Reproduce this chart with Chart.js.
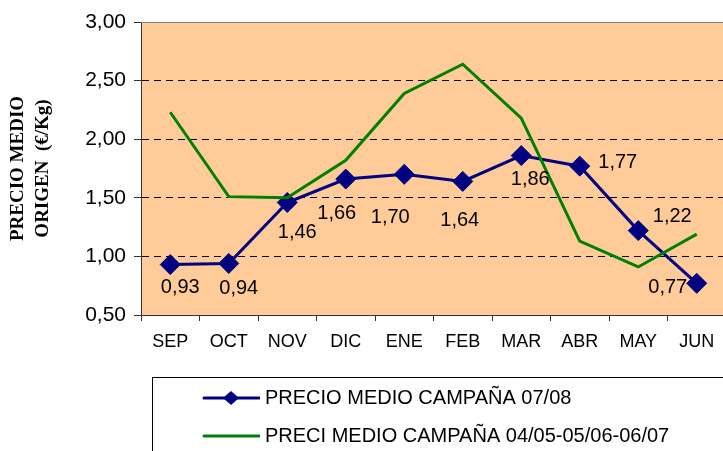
<!DOCTYPE html>
<html>
<head>
<meta charset="utf-8">
<script src="https://cdn.jsdelivr.net/npm/chart.js@4/dist/chart.umd.min.js"></script>
<style>
  html, body { margin: 0; padding: 0; background: #ffffff; overflow: hidden; }
  #wrap { width: 723px; height: 451px; overflow: hidden; position: relative; }
  canvas { display: block; }
</style>
</head>
<body>
<div id="wrap"><canvas id="c" width="740" height="456"></canvas></div>
<script>
// ---- data ----
const categories = ['SEP', 'OCT', 'NOV', 'DIC', 'ENE', 'FEB', 'MAR', 'ABR', 'MAY', 'JUN'];
const precio0708 = [0.93, 0.94, 1.46, 1.66, 1.70, 1.64, 1.86, 1.77, 1.22, 0.77];
const precioMedio3 = [2.23, 1.51, 1.50, 1.82, 2.39, 2.64, 2.18, 1.13, 0.91, 1.19];
const seriesNames = ['PRECIO MEDIO CAMPAÑA 07/08', 'PRECI MEDIO CAMPAÑA 04/05-05/06-06/07'];
const yTicks = { min: 0.5, max: 3.0, step: 0.5 };
const yTitle = ['PRECIO MEDIO', 'ORIGEN  (€/Kg)'];

// ---- styling (label placement offsets, in px, relative to each point) ----
const labelOffsets = [[10, 23], [10, 25], [10, 30], [-9, 34], [-14, 43], [-3, 39], [9, 24], [38, -4], [34, -14], [-29, 4]];
const BLUE = '#000080';
const GREEN = '#008000';

function fmt(v) { return v.toFixed(2).replace('.', ','); }

function legendImage(color, withMarker) {
  const c = document.createElement('canvas');
  c.width = 106; c.height = 18;
  const x = c.getContext('2d');
  x.strokeStyle = color; x.lineWidth = 3; x.lineCap = 'round';
  x.beginPath(); x.moveTo(50, 9); x.lineTo(105, 9); x.stroke();
  if (withMarker) {
    x.fillStyle = color;
    x.beginPath(); x.moveTo(77, 2); x.lineTo(85, 9); x.lineTo(77, 16); x.lineTo(69, 9); x.closePath(); x.fill();
  }
  return c;
}

const bgPlugin = {
  id: 'plotBg',
  beforeDraw(chart) {
    const { ctx, chartArea: a } = chart;
    ctx.save();
    ctx.fillStyle = '#FFCC99';
    ctx.fillRect(a.left, a.top, a.right - a.left, a.bottom - a.top);
    ctx.restore();
  },
  afterDraw(chart) {
    const { ctx, chartArea: a } = chart;
    ctx.save();
    ctx.strokeStyle = '#808080';
    ctx.lineWidth = 1;
    ctx.beginPath();
    ctx.moveTo(a.left, Math.round(a.top) + 0.5);
    ctx.lineTo(a.right, Math.round(a.top) + 0.5);
    ctx.stroke();
    // legend frame
    ctx.strokeStyle = '#000000';
    ctx.strokeRect(152.5, 377.5, 800, 200);
    ctx.restore();
  }
};

const labelPlugin = {
  id: 'valueLabels',
  afterDatasetsDraw(chart) {
    const { ctx } = chart;
    const meta = chart.getDatasetMeta(0);
    ctx.save();
    ctx.font = '20px "Liberation Sans", Arial, sans-serif';
    ctx.fillStyle = '#000000';
    ctx.textAlign = 'center';
    ctx.textBaseline = 'middle';
    meta.data.forEach((pt, i) => {
      const o = labelOffsets[i];
      ctx.fillText(fmt(chart.data.datasets[0].data[i]), pt.x + o[0], pt.y + o[1]);
    });
    ctx.restore();
  }
};

new Chart(document.getElementById('c'), {
  type: 'line',
  data: {
    labels: categories,
    datasets: [
      {
        label: seriesNames[0],
        data: precio0708,
        borderColor: BLUE,
        backgroundColor: BLUE,
        borderWidth: 3,
        tension: 0,
        pointStyle: 'rectRot',
        pointRadius: 10,
        pointBorderWidth: 1,
        pointBackgroundColor: BLUE,
        pointBorderColor: BLUE,
        order: 1
      },
      {
        label: seriesNames[1],
        data: precioMedio3,
        borderColor: GREEN,
        backgroundColor: GREEN,
        borderWidth: 3,
        tension: 0,
        pointRadius: 0,
        order: 0
      }
    ]
  },
  options: {
    responsive: false,
    animation: false,
    devicePixelRatio: 1,
    layout: { padding: { top: 22, right: 14, left: 0, bottom: 0 } },
    plugins: {
      tooltip: { enabled: false },
      legend: {
        position: 'bottom',
        align: 'start',
        fullSize: false,
        labels: {
          usePointStyle: true,
          pointStyleWidth: 96,
          padding: 18,
          color: '#000000',
          font: { family: '"Liberation Sans", Arial, sans-serif', size: 20 },
          generateLabels(chart) {
            return chart.data.datasets.map((ds, i) => ({
              text: ds.label,
              fillStyle: ds.borderColor,
              strokeStyle: ds.borderColor,
              lineWidth: 0,
              hidden: false,
              datasetIndex: i,
              pointStyle: legendImage(ds.borderColor, i === 0)
            }));
          }
        }
      }
    },
    scales: {
      x: {
        offset: true,
        grid: { offset: true, drawOnChartArea: false, drawTicks: true, tickLength: 6, tickColor: '#333333' },
        border: { color: '#333333', width: 1 },
        ticks: { color: '#000000', padding: 10, maxRotation: 0, font: { family: '"Liberation Sans", Arial, sans-serif', size: 18 } },
        afterFit(scale) { scale.height = 55; }
      },
      y: {
        min: yTicks.min,
        max: yTicks.max,
        grid: {
          color: (ctx) => (ctx.tick && (ctx.tick.value === yTicks.min || ctx.tick.value === yTicks.max)) ? 'rgba(0,0,0,0)' : '#000000',
          tickColor: '#333333',
          tickLength: 7,
          lineWidth: 1
        },
        border: { color: '#333333', width: 1, dash: [7, 5] },
        ticks: {
          stepSize: yTicks.step,
          color: '#000000',
          padding: 8,
          font: { family: '"Liberation Sans", Arial, sans-serif', size: 21 },
          callback: (v) => fmt(v)
        },
        title: {
          display: true,
          text: yTitle,
          color: '#000000',
          font: { family: '"Liberation Serif", "Times New Roman", serif', size: 19, weight: 'bold', lineHeight: 1.3 },
          padding: { top: 6, bottom: 0 }
        },
        afterFit(scale) { scale.width = 141; }
      }
    }
  },
  plugins: [bgPlugin, labelPlugin]
});
</script>
</body>
</html>
